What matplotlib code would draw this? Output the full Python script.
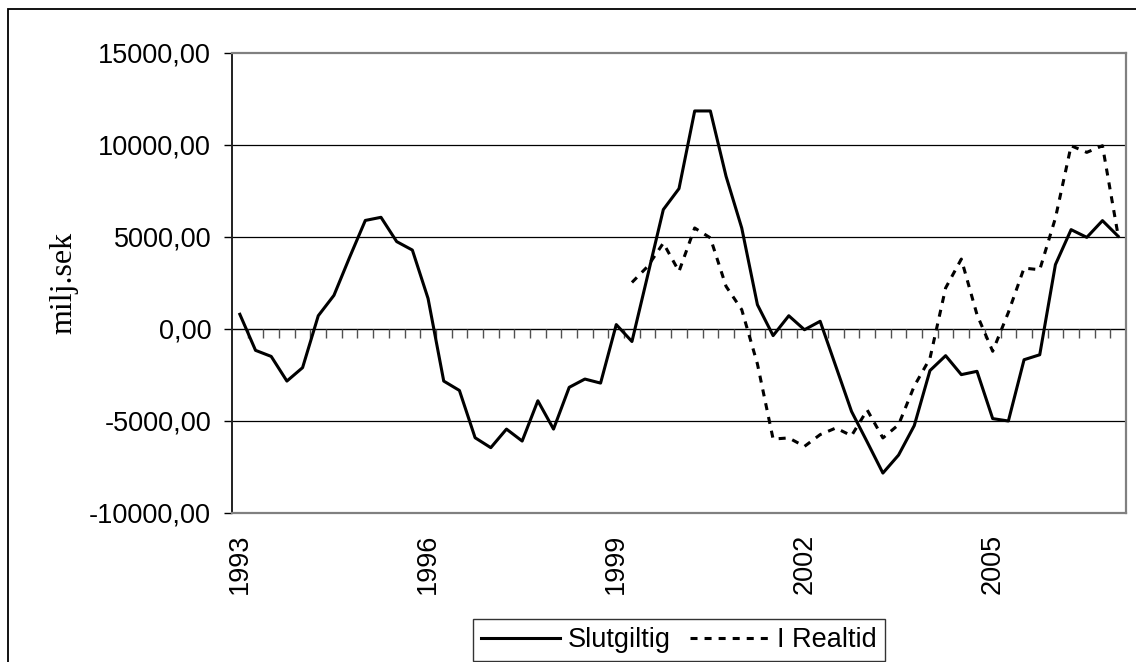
import numpy as np
import matplotlib.pyplot as plt
from matplotlib.patches import Rectangle
from matplotlib.ticker import FuncFormatter

# Quarterly series, 1993Q1 - 2007Q1 (milj. SEK)
quarters = [f"{y}Q{q}" for y in range(1993, 2008) for q in range(1, 5)][:57]

slutgiltig = [
    800, -1160, -1490, -2830, -2100, 720, 1830, 3900,
    5900, 6070, 4750, 4290, 1660, -2830, -3340, -5910,
    -6450, -5440, -6090, -3900, -5440, -3170, -2720, -2940,
    240, -680, 2900, 6490, 7630, 11850, 11850, 8300,
    5490, 1320, -360, 720, -40, 420, -2030, -4480,
    -6140, -7830, -6850, -5250, -2260, -1450, -2480, -2300,
    -4870, -5000, -1670, -1400, 3500, 5400, 4980, 5890,
    5040,
]

# Real-time estimates only exist from 1999Q2
i_realtid = [None] * 25 + [
    2530, 3400, 4670, 3130, 5490, 4950, 2320,
    1050, -1900, -5980, -5920, -6380, -5740, -5380, -5800,
    -4400, -5920, -5200, -3100, -1600, 2230, 3800, 780,
    -1210, 900, 3310, 3220, 6030, 9960, 9600, 9960,
    5070,
]

year_ticks = [0, 12, 24, 36, 48]
year_labels = ["1993", "1996", "1999", "2002", "2005"]
y_ticks = [-10000, -5000, 0, 5000, 10000, 15000]

x = np.arange(len(quarters))
rt = np.array([np.nan if v is None else v for v in i_realtid], dtype=float)

plt.rcParams['font.family'] = ['Liberation Sans', 'DejaVu Sans']

fig = plt.figure(figsize=(11.36, 6.62), dpi=100)
ax = fig.add_axes([232 / 1136, 1 - 513 / 662, 894 / 1136, 460 / 662])

ax.plot(x, slutgiltig, color='black', lw=2.2, label='Slutgiltig', zorder=3)
ax.plot(x, rt, color='black', lw=2.2, dashes=(2.3, 2.3), dash_capstyle='butt',
        label='I Realtid', zorder=3)

ax.set_xlim(-0.5, len(quarters) - 0.5)
ax.set_ylim(-10000, 15000)

# horizontal grid + zero line with category ticks hanging below it
for v in [-5000, 5000, 10000]:
    ax.axhline(v, color='black', lw=0.9, zorder=1)
ax.axhline(0, color='black', lw=1.0, zorder=2)
bounds = np.arange(0.5, len(quarters) - 0.5, 1.0)
ax.plot(bounds, np.zeros_like(bounds), linestyle='none', marker=3,
        ms=6.5, mew=1.0, color='#505050', zorder=2)

ax.set_yticks(y_ticks)
ax.yaxis.set_major_formatter(FuncFormatter(lambda v, p: f"{v:.2f}".replace('.', ',')))
ax.tick_params(axis='y', direction='out', length=6, width=1, pad=9, labelsize=19.5)

ax.set_xticks(year_ticks)
ax.set_xticklabels(year_labels, rotation=90, fontsize=19.5)
ax.tick_params(axis='x', length=0, pad=15)

for side in ['top', 'right', 'bottom']:
    ax.spines[side].set_color('#808080')
    ax.spines[side].set_linewidth(1.6)
ax.spines['left'].set_color('#202020')
ax.spines['left'].set_linewidth(1.4)

ax.set_ylabel('milj.sek', family=['Liberation Serif', 'DejaVu Serif'], fontsize=23)
ax.yaxis.set_label_coords(-0.172, 0.5)

leg = fig.legend(loc='center', bbox_to_anchor=(679 / 1136, 1 - 640 / 662), ncol=2,
                 fontsize=19.5, frameon=True, fancybox=False, edgecolor='black',
                 handlelength=2.9, handletextpad=0.3, columnspacing=0.7,
                 borderpad=0.3, borderaxespad=0)
leg.get_frame().set_linewidth(1.0)

# outer chart frame
fig.patches.append(Rectangle((8 / 1136, -0.1), 1.2, 1.1 - 9 / 662,
                             transform=fig.transFigure, fill=False,
                             edgecolor='black', lw=1.3))

fig.savefig('out.png', dpi=100)
